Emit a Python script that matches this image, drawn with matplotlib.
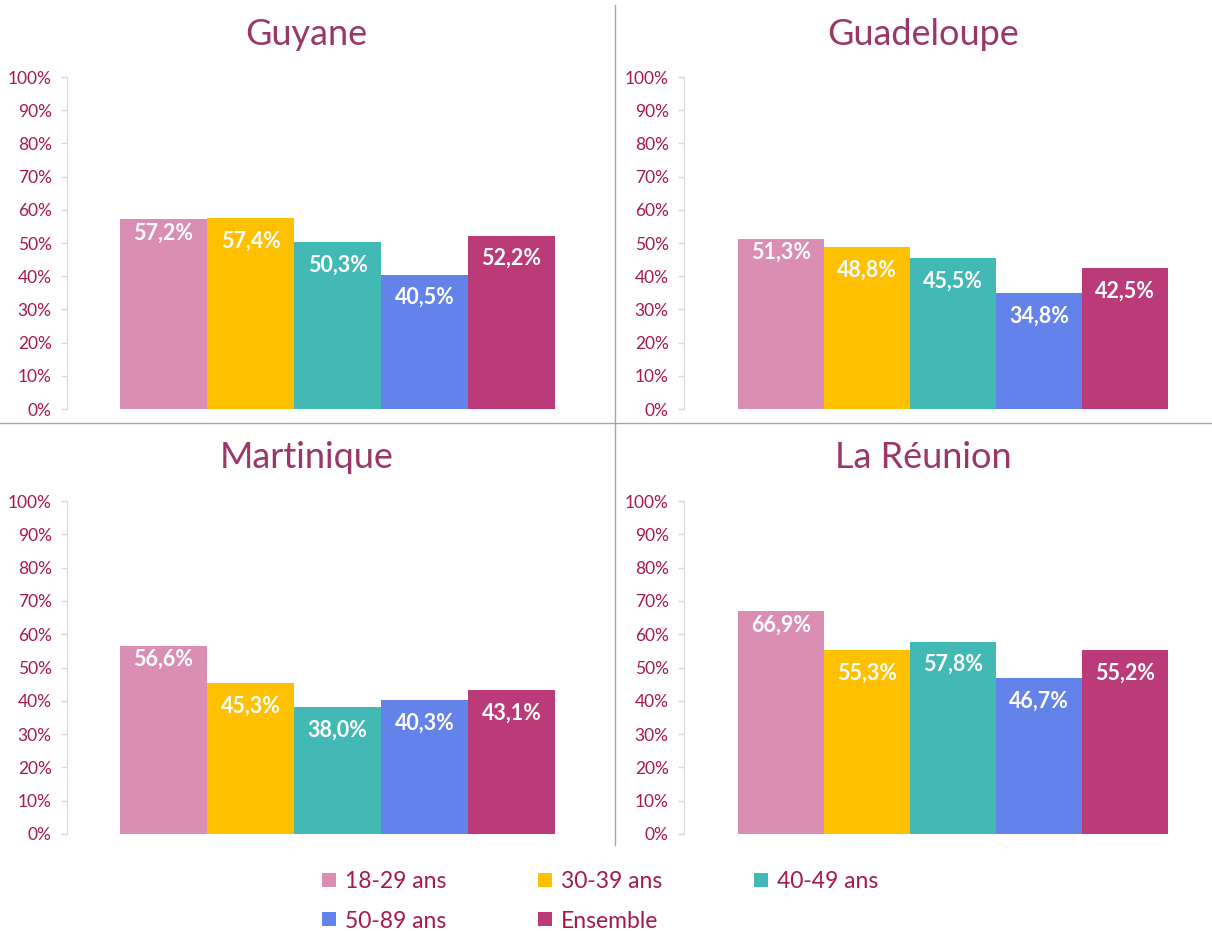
import matplotlib
matplotlib.use("Agg")
import matplotlib.pyplot as plt
from matplotlib.lines import Line2D
from matplotlib.patches import Rectangle

plt.rcParams['font.family'] = ['Lato', 'DejaVu Sans']

regions = ["Guyane", "Guadeloupe", "Martinique", "La Réunion"]
age_groups = ["18-29 ans", "30-39 ans", "40-49 ans", "50-89 ans", "Ensemble"]
guyane = [57.2, 57.4, 50.3, 40.5, 52.2]
guadeloupe = [51.3, 48.8, 45.5, 34.8, 42.5]
martinique = [56.6, 45.3, 38.0, 40.3, 43.1]
reunion = [66.9, 55.3, 57.8, 46.7, 55.2]
values = [guyane, guadeloupe, martinique, reunion]
yticks = [0, 10, 20, 30, 40, 50, 60, 70, 80, 90, 100]

colors = ["#DB8EB4", "#FFC000", "#43B9B6", "#6383EA", "#BB3A78"]
title_color = "#9B3768"
tick_color = "#A6194B"

W, H = 1212, 931
fig = plt.figure(figsize=(W / 100, H / 100), dpi=100)

# panel pixel boxes: (left, top_of_100, width, bottom_of_0, xpad)
boxes = [(67, 77, 541, 409, 1.11), (684, 77, 538, 409, 1.128),
         (67, 501, 541, 834, 1.11), (684, 501, 538, 834, 1.128)]
title_base = [45, 45, 468, 468]
title_cx = [306, 923, 307, 923]

for i, (l, t, w, b, pad) in enumerate(boxes):
    ax = fig.add_axes([l / W, 1 - b / H, w / W, (b - t) / H])
    x = list(range(len(age_groups)))
    ax.bar(x, values[i], width=1.0, color=colors, edgecolor='none')
    ax.set_xlim(-pad, 4 + pad)
    ax.set_ylim(0, 100)
    ax.set_yticks(yticks)
    ax.set_yticklabels([f"{v}%" for v in yticks], color=tick_color, fontsize=12.5)
    ax.set_xticks([])
    for s in ['top', 'right', 'bottom']:
        ax.spines[s].set_visible(False)
    ax.spines['left'].set_color('#D9D9D9')
    ax.tick_params(axis='y', color='#D9D9D9', length=4, width=1, pad=7)
    ax.patch.set_alpha(0)
    for j, v in enumerate(values[i]):
        off = -14 if j == 0 else -23
        ax.annotate(f"{v:.1f}%".replace('.', ','), (j, v), xytext=(0, off * 0.72),
                    textcoords='offset points', ha='center', va='center',
                    color='white', fontsize=15.5, fontweight='bold')
    fig.text(title_cx[i] / W, 1 - title_base[i] / H, regions[i], ha='center', va='baseline',
             fontsize=26, color=title_color)

# separators
fig.add_artist(Line2D([615 / W, 615 / W], [1 - 5 / H, 1 - 845 / H], color='#A6A6A6', lw=1))
fig.add_artist(Line2D([0, 1], [1 - 423 / H, 1 - 423 / H], color='#A6A6A6', lw=1))

# legend (row-major, 3 columns)
for k, (lab, c) in enumerate(zip(age_groups, colors)):
    col, row = k % 3, k // 3
    mx = 322 + 216 * col
    my = 880 + 39 * row
    fig.add_artist(Rectangle((mx / W, 1 - (my + 7) / H), 14 / W, 14 / H,
                             transform=fig.transFigure, facecolor=c, edgecolor='none'))
    fig.text((mx + 23) / W, 1 - my / H, lab, ha='left', va='center_baseline',
             fontsize=16.5, color=tick_color)

fig.savefig("out.png", dpi=100)
